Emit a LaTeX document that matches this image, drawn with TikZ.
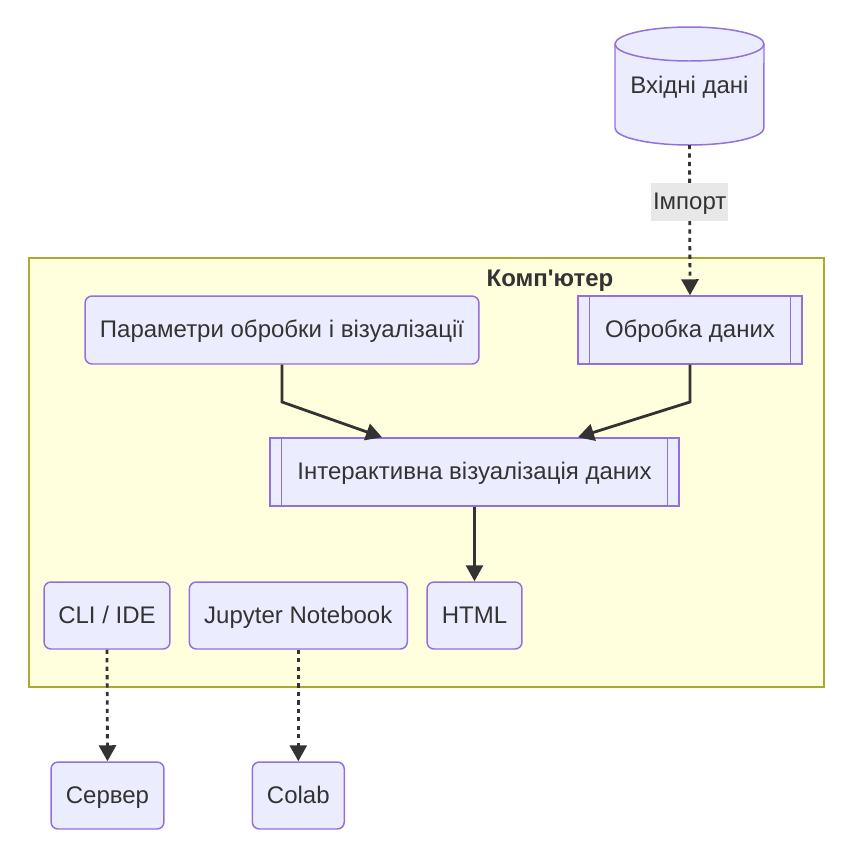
\documentclass[tikz,border=0pt]{standalone}
\usepackage{fontspec}
\setmainfont{Liberation Sans}[Ligatures=TeXOff]
\usetikzlibrary{arrows.meta}

\definecolor{nodefill}{HTML}{ECECFF}
\definecolor{nodeline}{HTML}{9370DB}
\definecolor{clusterfill}{HTML}{FFFFDE}
\definecolor{clusterline}{HTML}{AAAA33}
\definecolor{edgecol}{HTML}{333333}
\definecolor{labelfill}{HTML}{E8E8E8}

\tikzset{
  txt/.style={text=edgecol, font=\fontsize{13.66}{16}\selectfont, text height=1.06em, text depth=0.2em},
  box/.style={txt, draw=nodeline, fill=nodefill, line width=0.85pt, rounded corners=0.14cm, inner sep=0pt},
  subbox/.style={box, rounded corners=0pt},
  edge/.style={draw=edgecol, line width=1.6pt, -{Triangle[length=0.32cm,width=0.34cm]}},
  dottededge/.style={edge, dash pattern=on 2.4pt off 2.4pt},
}

\begin{document}
\begin{tikzpicture}[x=0.02cm, y=-0.02cm]
  \useasboundingbox (0,0) rectangle (860,853);

  % cluster
  \draw[clusterline, fill=clusterfill, line width=0.85pt] (29,258) rectangle (824,687);
  \node[txt, font=\fontsize{13.66}{16}\selectfont\bfseries] (title) at (550,279) {Комп'ютер};

  % input data (cylinder)
  \draw[nodeline, fill=nodefill, line width=0.85pt] (615,44) -- (615,128)
    arc[start angle=180, end angle=360, x radius=1.49cm, y radius=0.34cm] -- (764,44)
    arc[start angle=0, end angle=180, x radius=1.49cm, y radius=0.34cm] -- cycle;
  \draw[nodeline, line width=0.85pt] (615,44) arc[start angle=180, end angle=360, x radius=1.49cm, y radius=0.34cm];
  \node[txt] (input) at (689.5,86) {Вхідні дані};
  \coordinate (inputbottom) at (689.5,145);

  % nodes
  \node[box, minimum width=7.88cm, minimum height=1.36cm] (params) at (282,330) {Параметри обробки і візуалізації};
  \node[subbox, minimum width=4.48cm, minimum height=1.36cm] (process) at (690,330) {Обробка даних};
  \node[subbox, minimum width=8.18cm, minimum height=1.36cm] (viz) at (474.5,472) {Інтерактивна візуалізація даних};
  \node[box, minimum width=2.52cm, minimum height=1.34cm] (cli) at (107,615.5) {CLI / IDE};
  \node[box, minimum width=4.36cm, minimum height=1.34cm] (jupyter) at (298.3,615.5) {Jupyter Notebook};
  \node[box, minimum width=1.90cm, minimum height=1.34cm] (html) at (474.5,615.5) {HTML};
  \node[box, minimum width=2.26cm, minimum height=1.34cm] (server) at (107.5,795.5) {Сервер};
  \node[box, minimum width=1.84cm, minimum height=1.34cm] (colab) at (298.3,795.5) {Colab};

  % subroutine side bars
  \foreach \n in {process, viz} {
    \draw[nodeline, line width=0.85pt] ([xshift=0.24cm]\n.north west) -- ([xshift=0.24cm]\n.south west);
    \draw[nodeline, line width=0.85pt] ([xshift=-0.24cm]\n.north east) -- ([xshift=-0.24cm]\n.south east);
  }

  % edges
  \draw[dottededge] (inputbottom) -- node[txt, pos=0.38, fill=labelfill, inner xsep=1pt, inner ysep=1pt,
    minimum height=0.76cm] (importlabel) {Імпорт} (process.north);
  \draw[edge] (params.south) -- (282,402) -- ([xshift=-1.85cm]viz.north);
  \draw[edge] (process.south) -- (690,402) -- ([xshift=2.07cm]viz.north);
  \draw[edge] (viz.south) -- (html.north);
  \draw[dottededge] (cli.south) -- (server.north);
  \draw[dottededge] (jupyter.south) -- (colab.north);
\end{tikzpicture}
\end{document}
